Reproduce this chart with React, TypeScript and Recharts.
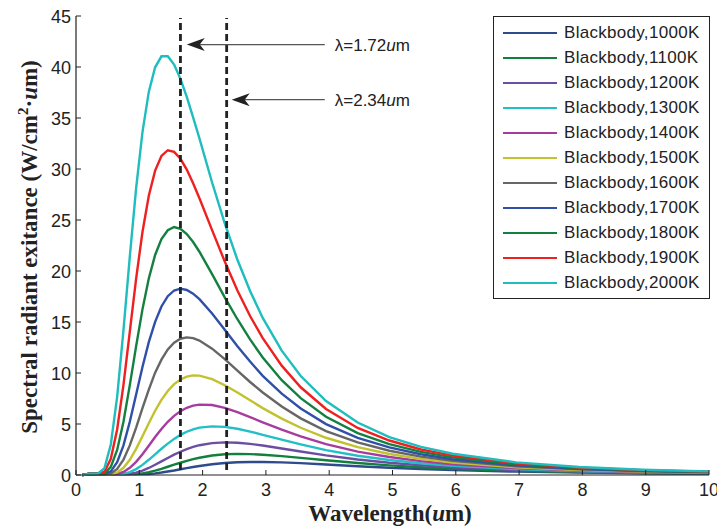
import React from 'react';
import { LineChart, Line, XAxis, YAxis, ReferenceLine, Legend } from 'recharts';

const SANS = '"Liberation Sans", Arial, sans-serif';
const SERIF = '"Liberation Serif", "Times New Roman", serif';

// wavelength (um) sample positions
const wavelength = [0.1, 0.2, 0.35, 0.45, 0.55, 0.65, 0.75, 0.85, 0.95, 1.05, 1.15, 1.25, 1.35, 1.45, 1.55, 1.65, 1.75, 1.85, 1.95, 2.15, 2.35, 2.55, 2.75, 2.95, 3.25, 3.55, 3.95, 4.45, 4.95, 5.45, 5.95, 6.95, 7.95, 8.95, 10];

const s1000 = [0, 0.1, 0.12, 0.1, 0.1, 0.1, 0.1, 0.1, 0.1, 0.1, 0.1, 0.16, 0.24, 0.34, 0.44, 0.56, 0.67, 0.78, 0.88, 1.05, 1.17, 1.25, 1.28, 1.28, 1.24, 1.16, 1.03, 0.86, 0.71, 0.59, 0.48, 0.33, 0.23, 0.16, 0.12];
const s1100 = [0, 0.1, 0.12, 0.1, 0.1, 0.1, 0.1, 0.1, 0.1, 0.16, 0.28, 0.43, 0.61, 0.81, 1.01, 1.2, 1.38, 1.55, 1.69, 1.91, 2.03, 2.07, 2.05, 1.99, 1.85, 1.68, 1.44, 1.17, 0.94, 0.76, 0.61, 0.41, 0.28, 0.19, 0.14];
const s1200 = [0, 0.1, 0.12, 0.1, 0.1, 0.1, 0.1, 0.1, 0.23, 0.43, 0.69, 1.0, 1.33, 1.67, 1.99, 2.28, 2.54, 2.75, 2.92, 3.13, 3.2, 3.16, 3.05, 2.89, 2.6, 2.3, 1.92, 1.52, 1.2, 0.95, 0.75, 0.49, 0.33, 0.23, 0.16];
const s1300 = [0, 0.1, 0.12, 0.1, 0.1, 0.1, 0.11, 0.29, 0.58, 0.99, 1.49, 2.02, 2.57, 3.08, 3.54, 3.93, 4.24, 4.48, 4.64, 4.77, 4.72, 4.53, 4.26, 3.94, 3.46, 3.0, 2.44, 1.89, 1.47, 1.15, 0.9, 0.58, 0.38, 0.26, 0.18];
const s1400 = [0, 0.1, 0.12, 0.1, 0.1, 0.1, 0.3, 0.7, 1.29, 2.04, 2.87, 3.72, 4.52, 5.22, 5.8, 6.26, 6.59, 6.8, 6.9, 6.86, 6.58, 6.16, 5.68, 5.17, 4.44, 3.78, 3.03, 2.29, 1.76, 1.36, 1.06, 0.67, 0.44, 0.3, 0.21];
const s1500 = [0, 0.1, 0.12, 0.1, 0.1, 0.25, 0.71, 1.49, 2.56, 3.8, 5.08, 6.3, 7.37, 8.24, 8.91, 9.37, 9.65, 9.77, 9.74, 9.4, 8.8, 8.08, 7.32, 6.56, 5.53, 4.63, 3.65, 2.73, 2.06, 1.58, 1.22, 0.76, 0.49, 0.33, 0.23];
const s1600 = [0, 0.1, 0.12, 0.1, 0.15, 0.59, 1.5, 2.9, 4.65, 6.55, 8.37, 10.03, 11.31, 12.31, 12.98, 13.36, 13.49, 13.42, 13.18, 12.39, 11.36, 10.23, 9.12, 8.09, 6.71, 5.55, 4.31, 3.2, 2.38, 1.8, 1.38, 0.85, 0.55, 0.37, 0.26];
const s1700 = [0, 0.1, 0.12, 0.1, 0.36, 1.25, 2.91, 5.22, 7.9, 10.59, 13.02, 15.02, 16.52, 17.53, 18.09, 18.27, 18.14, 17.78, 17.24, 15.83, 14.24, 12.62, 11.12, 9.72, 7.97, 6.52, 4.99, 3.64, 2.7, 2.03, 1.55, 0.95, 0.61, 0.41, 0.28];
const s1800 = [0, 0.1, 0.12, 0.15, 0.79, 2.45, 5.23, 8.81, 12.64, 16.24, 19.27, 21.57, 23.14, 23.99, 24.31, 24.14, 23.62, 22.84, 21.89, 19.7, 17.42, 15.27, 13.29, 11.52, 9.29, 7.54, 5.71, 4.11, 3.03, 2.26, 1.73, 1.04, 0.67, 0.44, 0.31];
const s1900 = [0, 0.1, 0.12, 0.32, 1.59, 4.46, 8.84, 14.05, 19.26, 23.82, 27.38, 29.84, 31.28, 31.84, 31.68, 31.0, 29.94, 28.61, 27.13, 24.01, 20.93, 18.09, 15.59, 13.41, 10.72, 8.6, 6.48, 4.61, 3.38, 2.5, 1.9, 1.14, 0.72, 0.48, 0.33];
const s2000 = [0, 0.1, 0.15, 0.68, 2.99, 7.66, 14.2, 21.41, 28.12, 33.61, 37.56, 39.97, 41.05, 41.05, 40.24, 38.84, 37.07, 35.07, 33.0, 28.68, 24.67, 21.1, 18.04, 15.4, 12.19, 9.7, 7.25, 5.14, 3.72, 2.76, 2.08, 1.24, 0.78, 0.52, 0.36];

const seriesNames = ['Blackbody,1000K', 'Blackbody,1100K', 'Blackbody,1200K', 'Blackbody,1300K', 'Blackbody,1400K', 'Blackbody,1500K', 'Blackbody,1600K', 'Blackbody,1700K', 'Blackbody,1800K', 'Blackbody,1900K', 'Blackbody,2000K'];
const seriesValues = [s1000, s1100, s1200, s1300, s1400, s1500, s1600, s1700, s1800, s1900, s2000];

const xTicks = [0, 1, 2, 3, 4, 5, 6, 7, 8, 9, 10];
const yTicks = [0, 5, 10, 15, 20, 25, 30, 35, 40, 45];

// vertical dashed marker lines (x positions as drawn) and their annotations
const markerX = [1.65, 2.38];
const markerLabels = ['λ=1.72', 'λ=2.34'];
const arrowY = [42.2, 36.8];
const arrowTipX = [1.75, 2.46];
const arrowTailX = 3.93;

const colors = ['#2e4b8c', '#12803d', '#6b4ea2', '#22bfc4', '#a63d9e', '#c2c22e', '#666666', '#2f4fa8', '#138040', '#ee2020', '#1fbdbd'];

const data = wavelength.map((x, i) => {
  const row: any = { x };
  seriesNames.forEach((n, k) => { row[n] = seriesValues[k][i]; });
  return row;
});

const BottomTick = (props: any) => {
  const { x, y, payload } = props;
  return (
    <g>
      <line x1={x} y1={y} x2={x} y2={y - 5} stroke="#222" strokeWidth={1} />
      <text x={x} y={y + 21} textAnchor="middle" fontSize={18} fill="#222" fontFamily={SANS}>{payload.value}</text>
    </g>
  );
};
const TopTick = (props: any) => {
  const { x, y } = props;
  return <line x1={x} y1={y} x2={x} y2={y + 5} stroke="#222" strokeWidth={1} />;
};
const LeftTick = (props: any) => {
  const { x, y, payload } = props;
  return (
    <g>
      <line x1={x} y1={y} x2={x + 5} y2={y} stroke="#222" strokeWidth={1} />
      <text x={x - 5} y={y + 6.5} textAnchor="end" fontSize={18} fill="#222" fontFamily={SANS}>{payload.value}</text>
    </g>
  );
};
const RightTick = (props: any) => {
  const { x, y } = props;
  return <line x1={x} y1={y} x2={x - 5} y2={y} stroke="#222" strokeWidth={1} />;
};

const YLabel = () => (
  <text x={37} y={247} transform="rotate(-90, 37, 247)" textAnchor="middle" fontFamily={SERIF} fontWeight="bold" fontSize={23} fill="#222">
    Spectral radiant exitance (W/cm<tspan dy={-9} fontSize={15}>2</tspan><tspan dy={9}>·</tspan><tspan fontStyle="italic">u</tspan>m)
  </text>
);
const XLabel = () => (
  <text x={390} y={521} textAnchor="middle" fontFamily={SERIF} fontWeight="bold" fontSize={23} fill="#222">
    Wavelength(<tspan fontStyle="italic">u</tspan>m)
  </text>
);

const makeArrow = (label: string) => (props: any) => {
  const { x1, y1, x2, y2 } = props;
  return (
    <g>
      <line x1={x1 + 13} y1={y1} x2={x2} y2={y2} stroke="#555" strokeWidth={1.3} />
      <polygon points={`${x1},${y1} ${x1 + 18},${y1 - 6.5} ${x1 + 13},${y1} ${x1 + 18},${y1 + 6.5}`} fill="#222" />
      <text x={x2 + 10} y={y2 + 6} fontSize={17} fill="#222" fontFamily={SANS}>
        {label}<tspan fontStyle="italic">u</tspan>m
      </text>
    </g>
  );
};

const LegendBox = (props: any) => {
  const payload = props.payload || [];
  return (
    <div style={{ width: 217, height: 283, border: '1px solid #222', boxSizing: 'border-box', background: '#fff', paddingTop: 3 }}>
      {payload.map((p: any) => (
        <div key={p.value} style={{ display: 'flex', alignItems: 'center', height: 25 }}>
          <div style={{ marginLeft: 9, width: 54, height: 0, borderTop: `2.5px solid ${p.color}` }} />
          <span style={{ marginLeft: 7, fontSize: 17, fontFamily: SANS, color: '#222', letterSpacing: 0.3, lineHeight: '25px', whiteSpace: 'nowrap' }}>{p.value}</span>
        </div>
      ))}
    </div>
  );
};

export default function App() {
  return (
    <div style={{ position: 'absolute', left: 0, top: 0, width: 717, height: 531, background: '#fff' }}>
      <LineChart width={717} height={531} data={data} margin={{ top: 16, right: 8, left: 0, bottom: 0 }}>
        <XAxis dataKey="x" type="number" domain={[0, 10]} ticks={xTicks} interval={0} height={56}
          tickLine={false} tickSize={0} tickMargin={0} tick={<BottomTick />} axisLine={{ stroke: '#222', strokeWidth: 1.2 }} label={<XLabel />} />
        <XAxis xAxisId="t" orientation="top" type="number" domain={[0, 10]} ticks={xTicks} interval={0} height={0}
          tickLine={false} tickSize={0} tickMargin={0} tick={<TopTick />} axisLine={{ stroke: '#222', strokeWidth: 1.2 }} />
        <YAxis type="number" domain={[0, 45]} ticks={yTicks} interval={0} width={76}
          tickLine={false} tickSize={0} tickMargin={0} tick={<LeftTick />} axisLine={{ stroke: '#222', strokeWidth: 1.2 }} label={<YLabel />} />
        <YAxis yAxisId="r" orientation="right" type="number" domain={[0, 45]} ticks={yTicks} interval={0} width={0}
          tickLine={false} tickSize={0} tickMargin={0} tick={<RightTick />} axisLine={{ stroke: '#222', strokeWidth: 1.2 }} />
        {seriesNames.map((n, k) => (
          <Line key={n} dataKey={n} name={n} type="linear" stroke={colors[k]} strokeWidth={2.4} dot={false} activeDot={false} isAnimationActive={false} />
        ))}
        {markerX.map((mx) => (
          <ReferenceLine key={'m' + mx} segment={[{ x: mx, y: 0.5 }, { x: mx, y: 44.8 }]} stroke="#222" strokeWidth={2.8} strokeDasharray="7 4" ifOverflow="visible" />
        ))}
        {markerLabels.map((lab, i) => (
          <ReferenceLine key={'a' + i} segment={[{ x: arrowTipX[i], y: arrowY[i] }, { x: arrowTailX, y: arrowY[i] }]} ifOverflow="visible" shape={makeArrow(lab)} />
        ))}
        <Legend layout="vertical" align="center" verticalAlign="middle" content={<LegendBox />}
          wrapperStyle={{ left: 493, top: 16, width: 217, height: 283, right: 'auto', bottom: 'auto' }} />
      </LineChart>
    </div>
  );
}
